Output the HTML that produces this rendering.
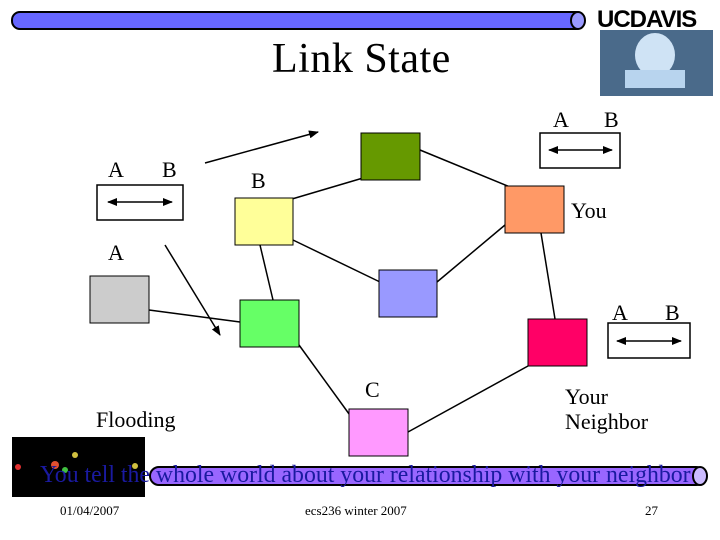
<!DOCTYPE html>
<html><head><style>
body{margin:0;width:720px;height:540px;background:#fff;overflow:hidden;position:relative;font-family:"Liberation Serif",serif}
.t{position:absolute;font-size:22px;color:#000;line-height:1}
</style></head><body>
<svg width="720" height="540" style="position:absolute;left:0;top:0">
<defs><marker id="a" markerWidth="10" markerHeight="8" refX="9" refY="4" orient="auto" markerUnits="userSpaceOnUse"><path d="M0,0L10,4L0,8z" fill="#000"/></marker>
<marker id="b" markerWidth="10" markerHeight="8" refX="1" refY="4" orient="auto" markerUnits="userSpaceOnUse"><path d="M10,0L0,4L10,8z" fill="#000"/></marker></defs>
<rect x="12" y="12" width="572" height="17" rx="8" fill="#6666ff" stroke="#000" stroke-width="2"/>
<ellipse cx="578" cy="20.5" rx="7" ry="8.5" fill="#9999ff" stroke="#000" stroke-width="2"/>
<rect x="600" y="30" width="113" height="66" fill="#4a6a8a"/>
<ellipse cx="655" cy="55" rx="20" ry="22" fill="#cfe3f5"/>
<rect x="625" y="70" width="60" height="18" fill="#b8d4ee"/>
<g stroke="#000" stroke-width="1.5">
<line x1="292" y1="199" x2="363" y2="178"/>
<line x1="420" y1="150" x2="510" y2="187"/>
<line x1="293" y1="240" x2="380" y2="282"/>
<line x1="260" y1="245" x2="273" y2="300"/>
<line x1="149" y1="310" x2="240" y2="322"/>
<line x1="505" y1="225" x2="437" y2="282"/>
<line x1="541" y1="233" x2="555" y2="319"/>
<line x1="299" y1="345" x2="352" y2="418"/>
<line x1="528" y1="366" x2="408" y2="432"/>
<line x1="205" y1="163" x2="318" y2="132" marker-end="url(#a)"/>
<line x1="165" y1="245" x2="220" y2="335" marker-end="url(#a)"/>
</g>
<g stroke="#000" stroke-width="1">
<rect x="361" y="133" width="59" height="47" fill="#669900"/>
<rect x="235" y="198" width="58" height="47" fill="#ffff99"/>
<rect x="505" y="186" width="59" height="47" fill="#ff9966"/>
<rect x="90" y="276" width="59" height="47" fill="#cccccc"/>
<rect x="379" y="270" width="58" height="47" fill="#9999ff"/>
<rect x="240" y="300" width="59" height="47" fill="#66ff66"/>
<rect x="528" y="319" width="59" height="47" fill="#ff0066"/>
<rect x="349" y="409" width="59" height="47" fill="#ff99ff"/>
</g>
<g stroke="#000" fill="none" stroke-width="1.5">
<rect x="97" y="185" width="86" height="35"/>
<rect x="540" y="133" width="80" height="35"/>
<rect x="608" y="323" width="82" height="35"/>
<line x1="108" y1="202" x2="172" y2="202" marker-end="url(#a)" marker-start="url(#b)"/>
<line x1="549" y1="150" x2="612" y2="150" marker-end="url(#a)" marker-start="url(#b)"/>
<line x1="617" y1="341" x2="681" y2="341" marker-end="url(#a)" marker-start="url(#b)"/>
</g>
<rect x="12" y="437" width="133" height="60" fill="#000"/>
<g fill="#d0c040"><circle cx="75" cy="455" r="3"/><circle cx="55" cy="465" r="4" fill="#e05030"/><circle cx="65" cy="470" r="3" fill="#40c040"/><circle cx="135" cy="466" r="3"/><circle cx="18" cy="467" r="3" fill="#e03030"/></g>
<rect x="150" y="467" width="555" height="18" rx="9" fill="#9966ff" stroke="#000" stroke-width="2"/>
<ellipse cx="700" cy="476" rx="7" ry="9" fill="#ccbbff" stroke="#000" stroke-width="2"/>
</svg>
<div class="t" style="left:597px;top:8px;font-family:'Liberation Sans',sans-serif;font-weight:bold;font-size:24px;letter-spacing:-1px">UC<span>DAVIS</span></div>
<div class="t" style="left:272px;top:38px;font-size:42px;letter-spacing:0.5px">Link State</div>
<div class="t" style="left:553px;top:109px">A</div>
<div class="t" style="left:604px;top:109px">B</div>
<div class="t" style="left:108px;top:159px">A</div>
<div class="t" style="left:162px;top:159px">B</div>
<div class="t" style="left:251px;top:170px">B</div>
<div class="t" style="left:571px;top:200px">You</div>
<div class="t" style="left:108px;top:242px">A</div>
<div class="t" style="left:612px;top:302px">A</div>
<div class="t" style="left:665px;top:302px">B</div>
<div class="t" style="left:365px;top:379px">C</div>
<div class="t" style="left:565px;top:386px">Your<br><span style="line-height:28px">Neighbor</span></div>
<div class="t" style="left:96px;top:409px">Flooding</div>
<div class="t" style="left:40px;top:464px;color:#1a1aa0;white-space:nowrap;font-size:23.8px">You tell the whole world about your relationship with your neighbor</div>
<div class="t" style="left:60px;top:504px;font-size:13px">01/04/2007</div>
<div class="t" style="left:305px;top:504px;font-size:13px">ecs236 winter 2007</div>
<div class="t" style="left:645px;top:504px;font-size:13px">27</div>
</body></html>
